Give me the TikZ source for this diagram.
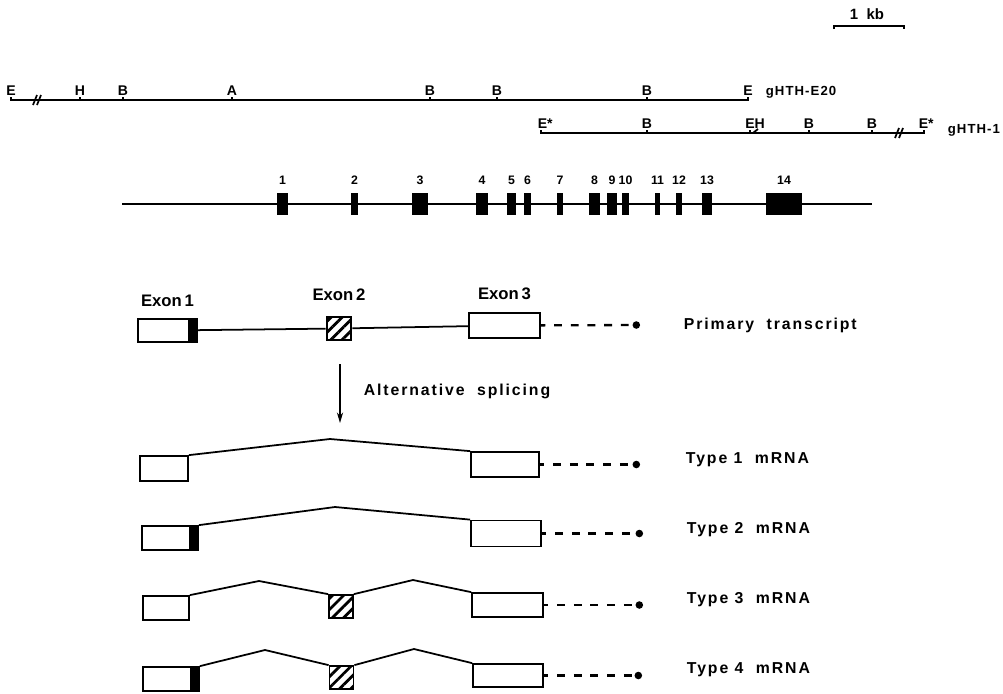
\documentclass[tikz,border=0pt]{standalone}
\usepackage{fontspec}
\setmainfont{Liberation Sans}
\usetikzlibrary{positioning,arrows.meta,patterns.meta}

\tikzset{
  site/.style={font=\bfseries\fontsize{8}{9}\selectfont, inner sep=0.5pt, anchor=south},
  clone/.style={font=\bfseries\fontsize{7.5}{9}\selectfont\addfontfeature{LetterSpace=8}, anchor=west, inner sep=0pt},
  exnum/.style={font=\bfseries\fontsize{7}{8}\selectfont, inner sep=0pt},
  exname/.style={font=\bfseries\fontsize{9.5}{11}\selectfont, inner sep=0pt},
  form/.style={font=\bfseries\fontsize{9}{11}\selectfont\addfontfeature{LetterSpace=12}, anchor=west, inner sep=0pt},
  exbox/.style 2 args={draw, line width=1pt, fill=white, inner sep=0pt, minimum width=#1*0.02cm, minimum height=#2*0.02cm},
  hatchbox/.style={exbox={24}{23}, pattern={Lines[angle=45,distance=4.5pt,line width=1.6pt]}},
  gexon/.style 2 args={fill=black, inner sep=0pt, minimum width=#1*0.02cm, minimum height=#2*0.02cm},
  tail/.style={line width=1.3pt, dash pattern=on 4.5pt off 5pt, dash phase=2pt, -{Circle[length=4.2pt]}},
}

\begin{document}
\begin{tikzpicture}[x=0.02cm, y=-0.02cm, line width=1pt]
\fill[white] (0,0) rectangle (1003,693);
\useasboundingbox (0,0) rectangle (1003,693);
% Escala
\draw (834,29) -- (834,26) -- (904,26) -- (904,29);
\node[site, font=\bfseries\fontsize{8.5}{10}\selectfont] (kb) at (867,21) {1\ \ kb};
% Clone gHTH-E20
\draw (11,97) -- (11,100) -- (748,100) -- (748,97);
\draw (33,105) -- (37,95) (37,105) -- (41,95);
\node[site] (e20a) at (11,97) {E};
\foreach \x/\s [count=\i] in {80/H,123/B,232/A,430/B,497/B,647/B}
    \draw (\x,100) -- (\x,97) node[site] (e20s\i) {\s};
\node[site] (e20b) at (748,97) {E};
\node[clone] (e20) at (765,92) {gHTH-E20};
% Clone gHTH-1
\draw (541,130) -- (541,133) -- (924,133) -- (924,130);
\draw (895,138) -- (899,128) (899,138) -- (903,128);
\node[site, anchor=south west] (h1a) at (536,130) {E*};
\foreach \x/\s [count=\i] in {647/B,809/B,872/B}
    \draw (\x,133) -- (\x,130) node[site] (h1s\i) {\s};
\draw (750,133) -- (750,130) (753,133) -- (758,129);
\node[site] (h1eh) at (755,130) {EH};
\node[site, anchor=south west] (h1b) at (917,130) {E*};
\node[clone] (h1) at (947,130) {gHTH-1};
% Gene
\draw (122,204) -- (872,204);
\foreach \x/\w/\n in {282.5/11/1,354.5/7/2,420/16/3,482/12/4,511.5/9/5,527.5/7/6,560/6/7,
                      594.5/11/8,612/10/9,625.5/7/10,657.5/5/11,679/6/12,707/10/13,784/36/14} {
    \node[gexon={\w}{22}] (g\n) at (\x,204) {};
    \node[exnum, above=4pt of g\n] (n\n) {\n};
}
% Transcrito primario
\node[exbox={59}{23}] (p1) at (167.5,330.5) {};
\fill ([xshift=-0.2cm]p1.north east) rectangle (p1.south east);
\node[hatchbox] (p2) at (339,328.5) {};
\node[exbox={71}{25}] (p3) at (504.5,325.5) {};
\coordinate (p4) at (640,325);
\draw (p1) -- (p2) -- (p3);
\draw[tail] (p3) -- (p4);
\node[exname, above=6pt of p1] (x1) {Exon\,1};
\node[exname, above=8pt of p2] (x2) {Exon\,2};
\node[exname, above=6.5pt of p3] (x3) {Exon\,3};
\node[form] (ptx) at (683,325) {Primary\ \ transcript};
% Splicing
\coordinate (sp1) at (340,364);
\coordinate (sp2) at (340,423);
\draw[line width=0.8pt, -{Stealth[length=6pt,width=3.5pt]}] (sp1) -- (sp2);
\node[form] (alt) at (363,391) {Alternative\ \ splicing};
% Tipo 1
\node[exbox={48}{25}] (t1a) at (164,468.5) {};
\node[exbox={68}{25}] (t1c) at (505,464.5) {};
\coordinate (t1p) at (330,439);
\coordinate (t1e) at (640,464.5);
\draw (t1a.north east) -- (t1p) -- (t1c.north west);
\draw[tail] (t1c) -- (t1e);
\node[form] (m1) at (685,460) {Type 1\ \ mRNA};
% Tipo 2
\node[exbox={56}{24}] (t2a) at (170,538) {};
\fill ([xshift=-0.2cm]t2a.north east) rectangle (t2a.south east);
\node[exbox={70}{26}] (t2c) at (506,533.5) {};
\coordinate (t2p) at (335,507);
\coordinate (t2e) at (643,533.5);
\draw (t2a.north east) -- (t2p) -- (t2c.north west);
\draw[tail] (t2c) -- (t2e);
\node[form] (m2) at (686,530) {Type 2\ \ mRNA};
% Tipo 3
\node[exbox={46}{24}] (t3a) at (166,608) {};
\node[hatchbox] (t3b) at (341,606.5) {};
\node[exbox={71}{24}] (t3c) at (507.5,605) {};
\coordinate (t3p) at (259,581);
\coordinate (t3q) at (413,580);
\coordinate (t3e) at (643,605);
\draw (t3a.north east) -- (t3p) -- (t3b.north west);
\draw (t3b.north east) -- (t3q) -- (t3c.north west);
\draw[tail] (t3c) -- (t3e);
\node[form] (m3) at (686,600) {Type 3\ \ mRNA};
% Tipo 4
\node[exbox={56}{24}] (t4a) at (171,679) {};
\fill ([xshift=-0.2cm]t4a.north east) rectangle (t4a.south east);
\node[hatchbox] (t4b) at (341.5,677.5) {};
\node[exbox={70}{23}] (t4c) at (508,675.5) {};
\coordinate (t4p) at (265,650);
\coordinate (t4q) at (414,649);
\coordinate (t4e) at (642,675.5);
\draw (t4a.north east) -- (t4p) -- (t4b.north west);
\draw (t4b.north east) -- (t4q) -- (t4c.north west);
\draw[tail] (t4c) -- (t4e);
\node[form] (m4) at (686,670) {Type 4\ \ mRNA};
\end{tikzpicture}
\end{document}
